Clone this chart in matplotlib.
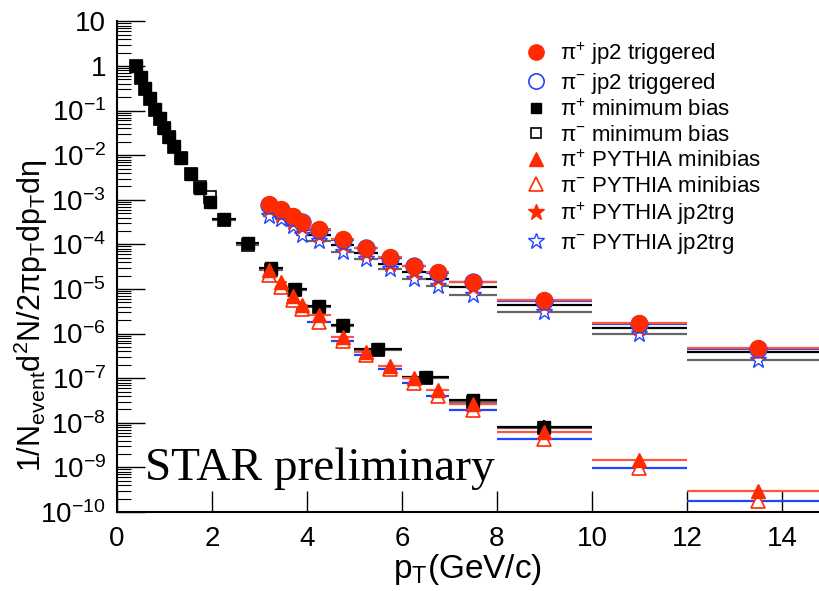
import matplotlib
matplotlib.use('Agg')
import matplotlib.pyplot as plt
from matplotlib.lines import Line2D
from matplotlib.ticker import FixedLocator, FixedFormatter, LogLocator, NullFormatter

plt.rcParams['font.family'] = ['Liberation Sans', 'DejaVu Sans']
plt.rcParams['mathtext.fontset'] = 'custom'
plt.rcParams['mathtext.rm'] = 'Liberation Sans'
plt.rcParams['mathtext.default'] = 'regular'

# min bias data
x_mb = [0.4, 0.5, 0.6, 0.7, 0.8, 0.9, 1.0, 1.1, 1.2, 1.35, 1.55, 1.75, 1.95,
        2.25, 2.75, 3.25, 3.75, 4.25, 4.75, 5.5, 6.5, 7.5, 9.0]
xerr_mb = [0.05, 0.05, 0.05, 0.05, 0.05, 0.05, 0.05, 0.05, 0.05, 0.1, 0.1, 0.1, 0.1,
           0.25, 0.25, 0.25, 0.25, 0.25, 0.25, 0.5, 0.5, 0.5, 1.0]
mb_pos = [1.0, 0.56, 0.32, 0.19, 0.107, 0.067, 0.041, 0.026, 0.016, 0.0088, 0.0038,
          0.0018, 8.8e-4, 3.8e-4, 1.05e-4, 2.9e-5, 1.0e-5, 4.2e-6, 1.56e-6,
          4.5e-7, 1.05e-7, 3.2e-8, 8.2e-9]
mb_neg = [0.98, 0.55, 0.31, 0.185, 0.105, 0.064, 0.040, 0.025, 0.0155, 0.0086, 0.0037,
          0.0019, 1.15e-3, 3.6e-4, 9.5e-5, 2.7e-5, 9.5e-6, 3.9e-6, 1.45e-6,
          4.3e-7, 1.0e-7, 3.0e-8, 7.8e-9]
mb_yerr = [0, 0, 0, 0, 0, 0, 0, 0, 0, 0, 0, 0, 0, 0, 0, 0, 0, 0, 0,
           0, 0, 0.6e-8, 3.5e-9]

# jp2 triggered data and PYTHIA
x_jp2 = [3.2, 3.45, 3.7, 3.9, 4.25, 4.75, 5.25, 5.75, 6.25, 6.75, 7.5, 9.0, 11.0, 13.5]
xerr_jp2 = [0.125, 0.125, 0.125, 0.125, 0.25, 0.25, 0.25, 0.25, 0.25, 0.25,
            0.5, 1.0, 1.0, 1.5]
jp2_pos = [8.1e-4, 6.1e-4, 4.3e-4, 3.2e-4, 2.2e-4, 1.32e-4, 8.5e-5, 5.2e-5, 3.3e-5,
           2.35e-5, 1.46e-5, 5.6e-6, 1.7e-6, 4.7e-7]
jp2_neg = [7.8e-4, 5.9e-4, 4.2e-4, 3.1e-4, 2.1e-4, 1.28e-4, 8.2e-5, 5.0e-5, 3.2e-5,
           2.25e-5, 1.40e-5, 5.3e-6, 1.62e-6, 4.5e-7]
pyt_mb_pos = [2.6e-5, 1.4e-5, 7.0e-6, 4.4e-6, 2.6e-6, 8.5e-7, 3.8e-7, 1.87e-7, 1.0e-7,
              5.5e-8, 2.6e-8, 6.3e-9, 1.5e-9, 2.9e-10]
pyt_mb_neg = [2.1e-5, 1.1e-5, 5.6e-6, 3.5e-6, 1.85e-6, 7.0e-7, 3.3e-7, 1.6e-7, 7.7e-8,
              4.0e-8, 1.9e-8, 4.3e-9, 9.5e-10, 1.8e-10]
pyt_jp2_pos = [6.2e-4, 4.6e-4, 3.2e-4, 2.4e-4, 1.6e-4, 9.8e-5, 6.3e-5, 3.7e-5, 2.4e-5,
               1.7e-5, 1.1e-5, 4.4e-6, 1.35e-6, 3.9e-7]
pyt_jp2_neg = [4.4e-4, 3.8e-4, 2.6e-4, 1.65e-4, 1.2e-4, 6.8e-5, 4.8e-5, 2.8e-5, 1.7e-5,
               1.15e-5, 7.5e-6, 3.1e-6, 1.0e-6, 2.6e-7]

labels = ['π$^{+}$ jp2 triggered', 'π$^{-}$ jp2 triggered',
          'π$^{+}$ minimum bias', 'π$^{-}$ minimum bias',
          'π$^{+}$ PYTHIA minibias', 'π$^{-}$ PYTHIA minibias',
          'π$^{+}$ PYTHIA jp2trg', 'π$^{-}$ PYTHIA jp2trg']

red = '#ff2a00'
blue = '#2244ff'
redline = '#ff5540'
gray = '#666666'

fig = plt.figure(figsize=(8.19, 5.91), dpi=100)
ax = fig.add_axes([117/819, 1 - 512/591, 1 - 117/819, (512 - 21.4)/591])

ax.errorbar(x_mb, mb_neg, xerr=xerr_mb, fmt='s', ms=8, mfc='white', mec='black',
            mew=1.2, ecolor=gray, elinewidth=1.6, capsize=0)
ax.errorbar(x_mb, mb_pos, xerr=xerr_mb, yerr=mb_yerr, fmt='s', ms=8, mfc='black', mec='black',
            ecolor='black', elinewidth=1.6, capsize=0)
ax.errorbar(x_jp2, pyt_jp2_neg, xerr=xerr_jp2, fmt='*', ms=12, mfc='white', mec=blue,
            mew=1.0, ecolor=gray, elinewidth=1.6, capsize=0)
ax.errorbar(x_jp2, pyt_jp2_pos, xerr=xerr_jp2, fmt='*', ms=12, mfc=red, mec=red,
            ecolor='black', elinewidth=1.6, capsize=0)
ax.errorbar(x_jp2, pyt_mb_neg, xerr=xerr_jp2, fmt='^', ms=10, mfc='white', mec=red,
            mew=1.2, ecolor=blue, elinewidth=1.6, capsize=0)
ax.errorbar(x_jp2, pyt_mb_pos, xerr=xerr_jp2, fmt='^', ms=10, mfc=red, mec=red,
            ecolor=redline, elinewidth=1.6, capsize=0)
ax.errorbar(x_jp2, jp2_neg, xerr=xerr_jp2, fmt='o', ms=12, mfc='white', mec=blue,
            mew=1.2, ecolor=blue, elinewidth=1.6, capsize=0)
ax.errorbar(x_jp2, jp2_pos, xerr=xerr_jp2, fmt='o', ms=11.5, mfc=red, mec=red,
            ecolor=redline, elinewidth=1.6, capsize=0)

ax.set_yscale('log')
ax.set_xlim(0, 14.78)
ax.set_ylim(1e-10, 10)

decades = [10.0**k for k in range(1, -11, -1)]
dec_labels = ['10', '1'] + ['$10^{%d}$' % k for k in range(-1, -11, -1)]
ax.yaxis.set_major_locator(FixedLocator(decades))
ax.yaxis.set_major_formatter(FixedFormatter(dec_labels))
ax.yaxis.set_minor_locator(LogLocator(base=10, subs=range(2, 10), numticks=30))
ax.yaxis.set_minor_formatter(NullFormatter())
ax.set_xticks([0, 2, 4, 6, 8, 10, 12, 14])

ax.tick_params(axis='y', which='major', direction='in', length=20, width=1, labelsize=20, pad=8)
ax.tick_params(axis='y', which='minor', direction='in', length=10, width=0.8)
ax.tick_params(axis='x', which='major', direction='in', length=15, width=1, labelsize=20, pad=10)
for side in ['top', 'right']:
    ax.spines[side].set_visible(False)
for side in ['left', 'bottom']:
    ax.spines[side].set_linewidth(1.5)

ax.set_xlabel('p$_{T}$(GeV/c)', fontsize=24, labelpad=0)
ax.set_ylabel('1/N$_{event}$d$^{2}$N/2πp$_{T}$dp$_{T}$dη', fontsize=22)
ax.yaxis.set_label_coords(-0.095, 0.40)

fig.text(145/819, 1 - 480/591, 'STAR preliminary', family='Liberation Serif',
         fontsize=34, va='baseline')

handles = [
    Line2D([], [], ls='none', marker='o', ms=11, mfc=red, mec=red),
    Line2D([], [], ls='none', marker='o', ms=11, mfc='white', mec=blue, mew=1.2),
    Line2D([], [], ls='none', marker='s', ms=7, mfc='black', mec='black'),
    Line2D([], [], ls='none', marker='s', ms=7, mfc='white', mec='black', mew=1.2),
    Line2D([], [], ls='none', marker='^', ms=10, mfc=red, mec=red),
    Line2D([], [], ls='none', marker='^', ms=10, mfc='white', mec=red, mew=1.2),
    Line2D([], [], ls='none', marker='*', ms=12, mfc=red, mec=red),
    Line2D([], [], ls='none', marker='*', ms=12, mfc='white', mec=blue, mew=1.0),
]
ax.legend(handles, labels, loc='upper left', bbox_to_anchor=(514/819, 1 - 29/591),
          bbox_transform=fig.transFigure, frameon=False, fontsize=16,
          handlelength=1.0, handletextpad=0.55, labelspacing=0.18, borderpad=0)

fig.savefig('out.png', dpi=100)
